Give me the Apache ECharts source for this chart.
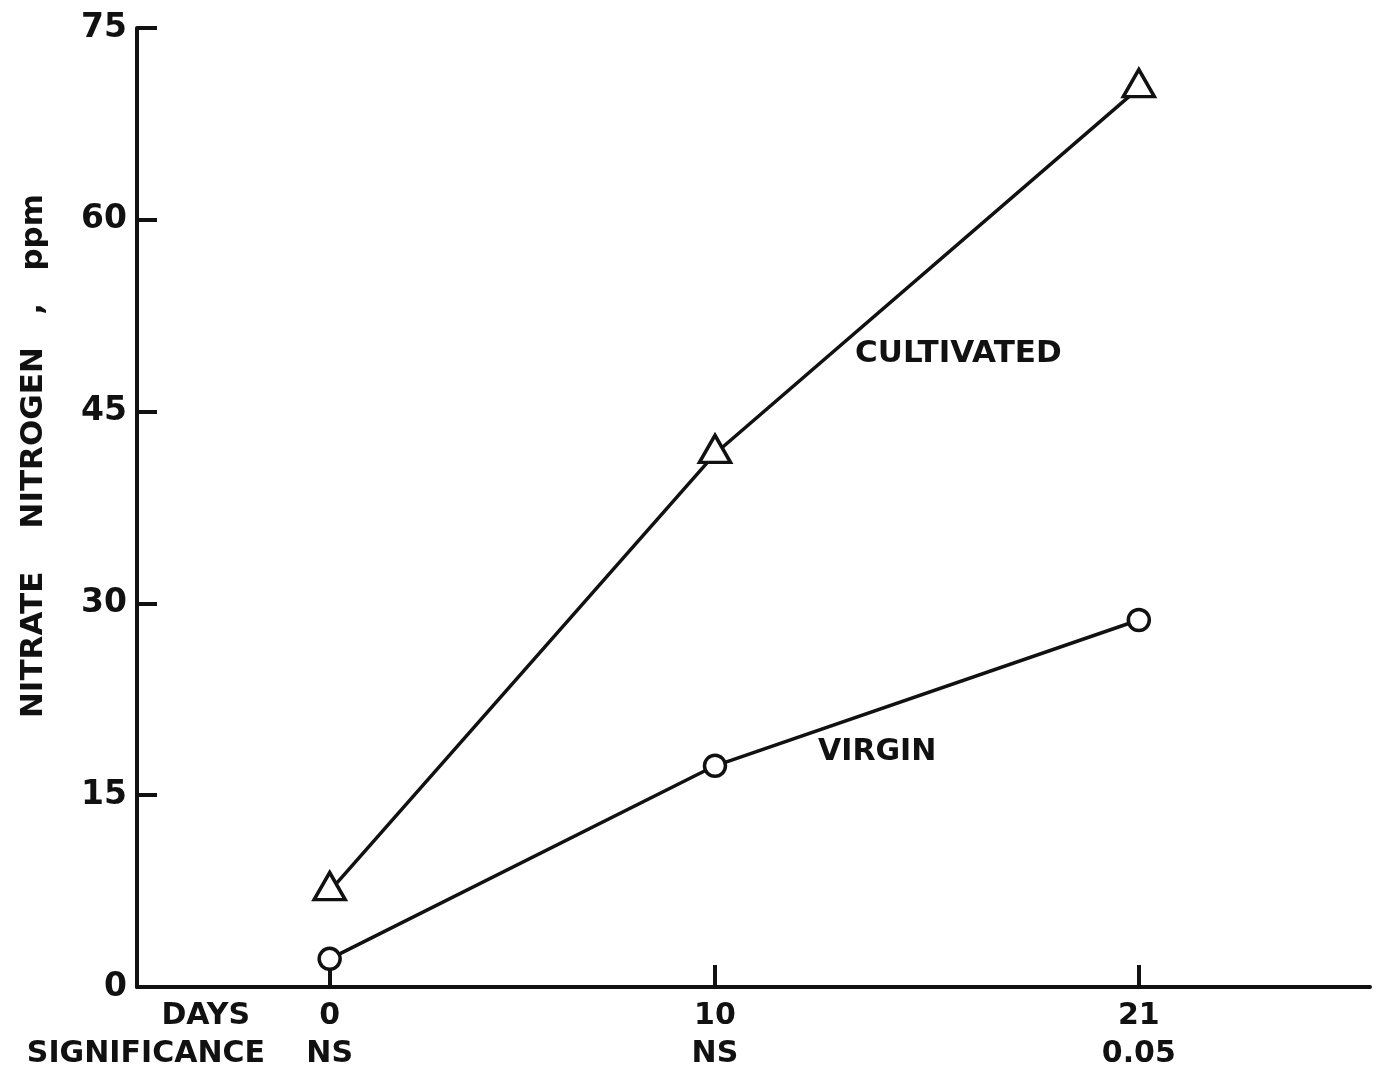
<!DOCTYPE html>
<html>
<head>
<meta charset="utf-8">
<script src="https://cdn.jsdelivr.net/npm/echarts@6/dist/echarts.min.js"></script>
<style>
  html, body { margin: 0; padding: 0; background: #ffffff; }
  #chart { width: 1377px; height: 1077px; }
</style>
</head>
<body>
<div id="chart"></div>
<script>
// Sampling days and the significance level of the difference at each day
const days = [0, 10, 21];
const significance = ['NS', 'NS', '0.05'];

// Nitrate nitrogen (ppm) after incubation
const cultivated = [7.5, 41.7, 70.3];
const virgin = [2.2, 17.3, 28.7];

// Y axis ticks
const yTicks = [0, 15, 30, 45, 60, 75];

const INK = '#111111';
const FONT = '"DejaVu Sans", "Liberation Sans", sans-serif';

const chart = echarts.init(document.getElementById('chart'), null, { renderer: 'canvas' });

const option = {
  backgroundColor: '#ffffff',
  animation: false,
  grid: { left: 137, right: 7, top: 28, bottom: 90, containLabel: false },
  xAxis: {
    type: 'value',
    min: -5,
    max: 27,
    axisLine: { show: true, onZero: false, lineStyle: { color: INK, width: 4 } },
    axisTick: {
      show: true, inside: true, length: 22,
      customValues: days,
      lineStyle: { color: INK, width: 4 }
    },
    axisLabel: {
      show: true,
      customValues: days,
      margin: 10,
      color: INK,
      fontFamily: FONT,
      fontWeight: 'bold',
      fontSize: 30,
      lineHeight: 38,
      formatter: function (v) {
        const i = days.indexOf(v);
        return i < 0 ? '' : days[i] + '\n' + significance[i];
      }
    },
    splitLine: { show: false }
  },
  yAxis: {
    type: 'value',
    min: 0,
    max: 75,
    interval: 15,
    axisLine: { show: true, onZero: false, lineStyle: { color: INK, width: 4 } },
    axisTick: {
      show: true, inside: true, length: 20,
      customValues: yTicks,
      lineStyle: { color: INK, width: 4 }
    },
    axisLabel: {
      show: true,
      customValues: yTicks,
      margin: 10,
      color: INK,
      fontFamily: FONT,
      fontWeight: 'bold',
      fontSize: 33
    },
    splitLine: { show: false }
  },
  graphic: [
    {
      type: 'text', x: 34, y: 456, rotation: Math.PI / 2,
      style: {
        text: 'NITRATE    NITROGEN   ,   ppm',
        fill: INK, font: 'bold 31px ' + FONT,
        textAlign: 'center', textVerticalAlign: 'middle'
      }
    },
    {
      type: 'text', x: 250, y: 1016,
      style: { text: 'DAYS', fill: INK, font: 'bold 30px ' + FONT, textAlign: 'right', textVerticalAlign: 'middle' }
    },
    {
      type: 'text', x: 265, y: 1054,
      style: { text: 'SIGNIFICANCE', fill: INK, font: 'bold 30px ' + FONT, textAlign: 'right', textVerticalAlign: 'middle' }
    },
    {
      type: 'text', x: 855, y: 354,
      style: { text: 'CULTIVATED', fill: INK, font: 'bold 31px ' + FONT, textAlign: 'left', textVerticalAlign: 'middle' }
    },
    {
      type: 'text', x: 818, y: 752,
      style: { text: 'VIRGIN', fill: INK, font: 'bold 30px ' + FONT, textAlign: 'left', textVerticalAlign: 'middle' }
    }
  ],
  series: [
    {
      name: 'CULTIVATED',
      type: 'line',
      data: days.map((d, i) => [d, cultivated[i]]),
      symbol: 'triangle',
      symbolSize: [31, 27],
      symbolOffset: [0, -5],
      showAllSymbol: true,
      lineStyle: { color: INK, width: 3.5 },
      itemStyle: { color: '#ffffff', borderColor: INK, borderWidth: 3.5 },
      z: 3
    },
    {
      name: 'VIRGIN',
      type: 'line',
      data: days.map((d, i) => [d, virgin[i]]),
      symbol: 'circle',
      symbolSize: 21,
      showAllSymbol: true,
      lineStyle: { color: INK, width: 3.5 },
      itemStyle: { color: '#ffffff', borderColor: INK, borderWidth: 3.5 },
      z: 3
    }
  ]
};

chart.setOption(option);
</script>
</body>
</html>
